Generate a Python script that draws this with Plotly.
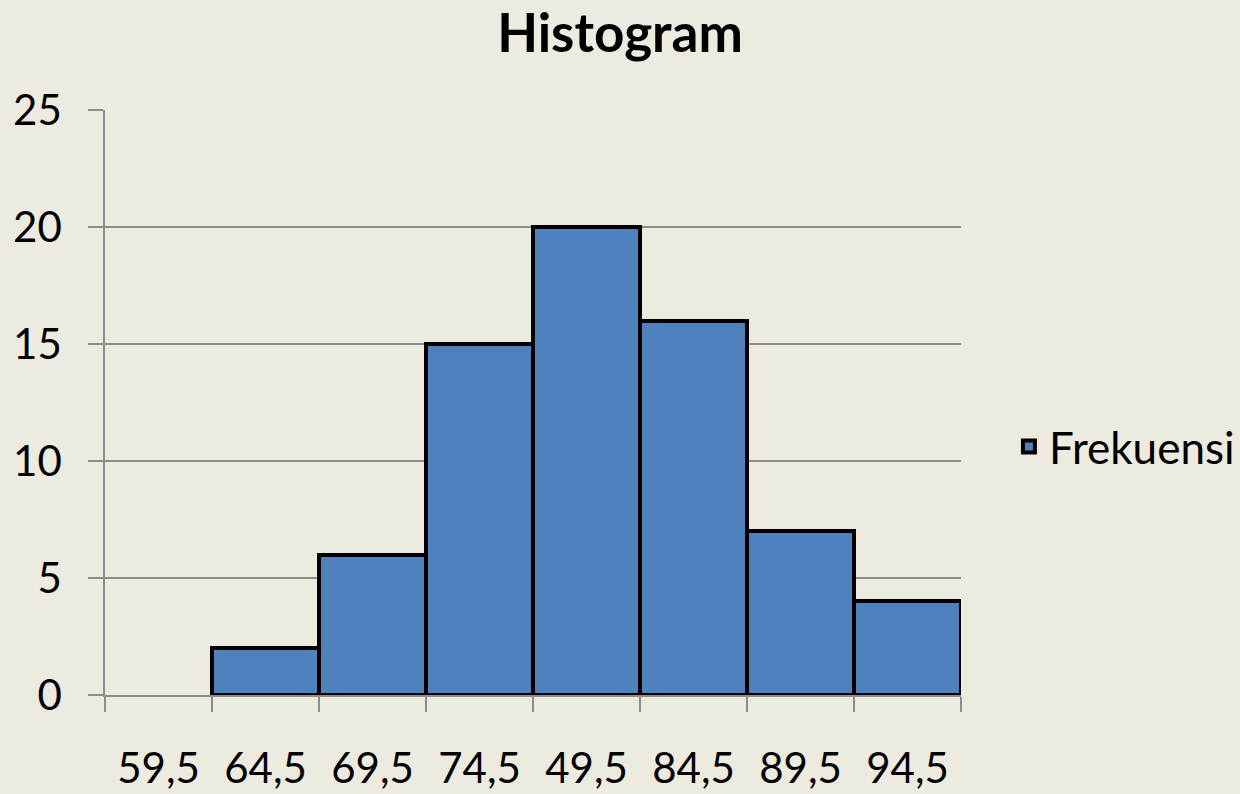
import plotly.graph_objects as go

categories = ["59,5", "64,5", "69,5", "74,5", "49,5", "84,5", "89,5", "94,5"]
frekuensi = [None, 2, 6, 15, 20, 16, 7, 4]
y_ticks = [0, 5, 10, 15, 20, 25]

BG = "#EDEADF"
GRID = "#8C8C8C"
FONT = "Lato, 'Open Sans', sans-serif"

fig = go.Figure()
fig.add_trace(go.Bar(
    x=categories, y=frekuensi, name="Frekuensi",
    marker=dict(color="#4F81BD", line=dict(color="black", width=4)),
))

fig.update_layout(
    width=1240, height=794,
    paper_bgcolor=BG, plot_bgcolor=BG,
    margin=dict(l=105, r=279, t=110, b=99, autoexpand=False),
    bargap=0,
    font=dict(family=FONT, color="black"),
    title=dict(text="<b>Histogram</b>", x=0.5, xanchor="center", y=0.958, yanchor="middle",
               font=dict(size=53, family=FONT, color="black")),
    showlegend=True,
    legend=dict(x=1.056, y=0.424, xanchor="left", yanchor="middle",
                font=dict(size=44, family=FONT, color="black"),
                bgcolor="rgba(0,0,0,0)"),
    xaxis=dict(
        type="category", tickson="boundaries", automargin=False,
        ticks="outside", ticklen=15, tickwidth=1.5, tickcolor=GRID,
        showline=True, linecolor=GRID, linewidth=1.5,
        showgrid=False, tickfont=dict(size=42, family=FONT),
        ticklabelstandoff=36,
    ),
    yaxis=dict(
        range=[0, 25], tickvals=y_ticks, automargin=False,
        ticks="outside", ticklen=15, tickwidth=1.5, tickcolor=GRID,
        showline=True, linecolor=GRID, linewidth=1.5,
        showgrid=True, gridcolor=GRID, gridwidth=1.5,
        zeroline=False, tickfont=dict(size=42, family=FONT),
        ticklabelstandoff=18,
    ),
)

fig.write_html(
    "out.html",
    config={"displayModeBar": False},
    post_script="document.body.style.margin='0';document.body.style.background='#EDEADF';",
)
